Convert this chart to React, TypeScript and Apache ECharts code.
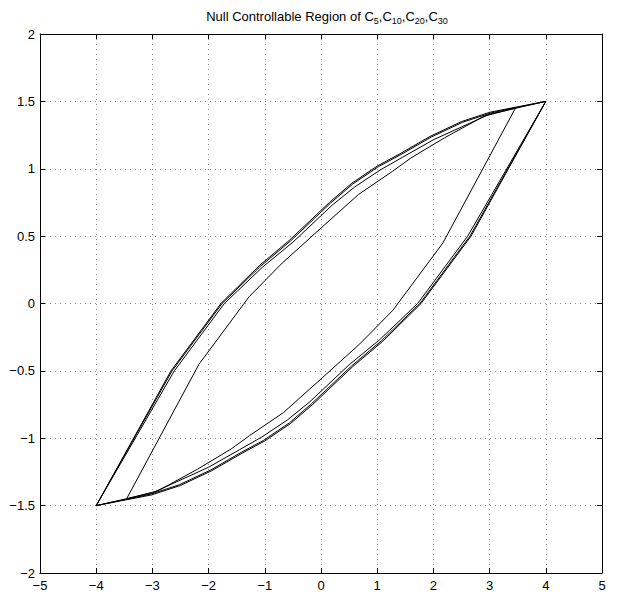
import React, { useEffect, useRef } from "react";
import * as echarts from "echarts";

const X_TICKS = [-5, -4, -3, -2, -1, 0, 1, 2, 3, 4, 5];
const Y_TICKS = [-2, -1.5, -1, -0.5, 0, 0.5, 1, 1.5, 2];

const C30_UPPER = [[-4, -1.5], [-2.67, -0.5], [-1.78, 0.0], [-1.1, 0.28], [-0.56, 0.47], [0.15, 0.75], [0.54, 0.89], [1.0, 1.02], [1.4, 1.11], [1.94, 1.24], [2.5, 1.35], [3.01, 1.42], [4, 1.5]];
const C30_LOWER = [[4, 1.5], [2.67, 0.5], [1.78, 0.0], [1.1, -0.28], [0.56, -0.47], [-0.15, -0.75], [-0.54, -0.89], [-1.0, -1.02], [-1.4, -1.11], [-1.94, -1.24], [-2.5, -1.35], [-3.01, -1.42], [-4, -1.5]];

const C20_UPPER = [[-4, -1.5], [-2.65, -0.5], [-1.76, 0.0], [-1.08, 0.275], [-0.54, 0.465], [0.17, 0.745], [0.56, 0.885], [1.02, 1.015], [1.42, 1.105], [1.96, 1.235], [2.52, 1.345], [3.03, 1.415], [4, 1.5]];
const C20_LOWER = [[4, 1.5], [2.65, 0.5], [1.76, 0.0], [1.08, -0.275], [0.54, -0.465], [-0.17, -0.745], [-0.56, -0.885], [-1.02, -1.015], [-1.42, -1.105], [-1.96, -1.235], [-2.52, -1.345], [-3.03, -1.415], [-4, -1.5]];

const C10_UPPER = [[-4, -1.5], [-2.61, -0.5], [-1.72, 0.0], [-1.04, 0.27], [-0.5, 0.455], [0.2, 0.73], [0.6, 0.865], [1.05, 0.99], [1.45, 1.085], [2.0, 1.215], [3.0, 1.405], [4, 1.5]];
const C10_LOWER = [[4, 1.5], [2.61, 0.5], [1.72, 0.0], [1.04, -0.27], [0.5, -0.455], [-0.2, -0.73], [-0.6, -0.865], [-1.05, -0.99], [-1.45, -1.085], [-2.0, -1.215], [-3.0, -1.405], [-4, -1.5]];

const C5_UPPER = [[-3.46, -1.45], [-2.17, -0.45], [-1.28, 0.05], [-0.69, 0.3], [0, 0.56], [0.67, 0.81], [1.27, 0.98], [1.6, 1.08], [2.2, 1.23], [2.9, 1.39], [3.46, 1.45]];
const C5_LOWER = [[3.46, 1.45], [2.17, 0.45], [1.28, -0.05], [0.69, -0.3], [0, -0.56], [-0.67, -0.81], [-1.27, -0.98], [-1.6, -1.08], [-2.2, -1.23], [-2.9, -1.39], [-3.46, -1.45]];

const CURVES = [
  { name: "C30", upper: C30_UPPER, lower: C30_LOWER },
  { name: "C20", upper: C20_UPPER, lower: C20_LOWER },
  { name: "C10", upper: C10_UPPER, lower: C10_LOWER },
  { name: "C5", upper: C5_UPPER, lower: C5_LOWER },
];

const FONT = "'Liberation Sans', Arial, Helvetica, sans-serif";
const fmt = (v: number) => String(v).replace("-", "\u2212");

export default function App() {
  const ref = useRef<HTMLDivElement>(null);
  useEffect(() => {
    if (!ref.current) return;
    const chart = echarts.init(ref.current, undefined, { renderer: "svg" });
    const axisCommon = {
      type: "value" as const,
      axisLine: { show: true, onZero: false, lineStyle: { color: "#000", width: 1 } },
      axisTick: { show: true, inside: true, length: 5, lineStyle: { color: "#000" } },
    };
    chart.setOption({
      animation: false,
      backgroundColor: "#fff",
      title: {
        text: "Null Controllable Region of C{s|5},C{s|10},C{s|20},C{s|30}",
        left: 322,
        top: 3,
        textAlign: "center",
        textStyle: {
          fontFamily: FONT,
          fontSize: 13,
          fontWeight: "normal",
          color: "#000",
          lineHeight: 16,
          rich: {
            s: { fontFamily: FONT, fontSize: 9, color: "#000", padding: [9, 0, 0, 0], lineHeight: 10 },
          },
        },
      },
      grid: { left: 40, right: 16, top: 34, bottom: 23, containLabel: false },
      xAxis: [
        {
          ...axisCommon,
          position: "bottom",
          min: -5,
          max: 5,
          interval: 1,
          axisLabel: { color: "#000", fontFamily: FONT, fontSize: 13, margin: 6, formatter: fmt, showMinLabel: true, showMaxLabel: true },
          splitLine: { show: true, lineStyle: { color: "#8a8a8a", type: [1, 4], width: 1 } },
        },
        {
          ...axisCommon,
          position: "top",
          min: -5,
          max: 5,
          interval: 1,
          axisLabel: { show: false },
          splitLine: { show: false },
        },
      ],
      yAxis: [
        {
          ...axisCommon,
          position: "left",
          min: -2,
          max: 2,
          interval: 0.5,
          axisLabel: { color: "#000", fontFamily: FONT, fontSize: 13, margin: 5, formatter: fmt, showMinLabel: true, showMaxLabel: true },
          splitLine: { show: true, lineStyle: { color: "#8a8a8a", type: [1, 4], width: 1 } },
        },
        {
          ...axisCommon,
          position: "right",
          min: -2,
          max: 2,
          interval: 0.5,
          axisLabel: { show: false },
          splitLine: { show: false },
        },
      ],
      series: CURVES.map((c) => ({
        name: c.name,
        type: "line",
        xAxisIndex: 0,
        yAxisIndex: 0,
        showSymbol: false,
        symbol: "none",
        silent: true,
        lineStyle: { color: "#000", width: 1 },
        data: c.upper.concat(c.lower.slice(1)),
      })),
    });
    return () => chart.dispose();
  }, []);
  return <div ref={ref} style={{ position: "absolute", left: 0, top: 0, width: 618, height: 596 }} />;
}
